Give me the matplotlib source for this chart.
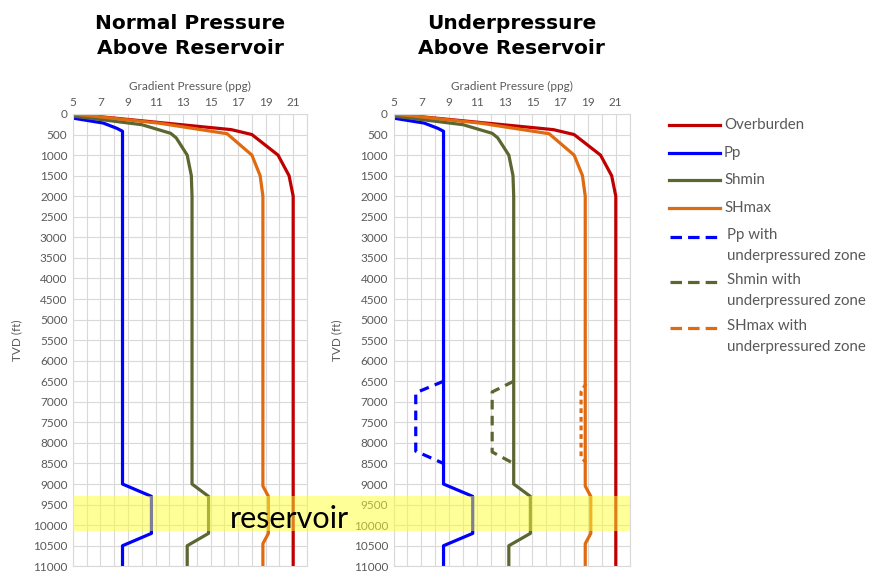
import matplotlib
matplotlib.use("Agg")
import matplotlib.pyplot as plt
import matplotlib.transforms as mtransforms
from matplotlib.patches import Rectangle
from matplotlib.lines import Line2D

# ---------------- data ----------------
ob_x = [5, 16.5, 18.0, 19.9, 20.7, 21.0, 21.0]
ob_y = [0, 380, 500, 1000, 1500, 2000, 11000]

pp_x = [5, 7.2, 8.2, 8.6, 8.6, 10.7, 10.7, 8.6, 8.6]
pp_y = [100, 220, 350, 420, 9000, 9300, 10200, 10500, 11000]

shmin_x = [5, 10.0, 12.1, 12.5, 13.3, 13.6, 13.65, 13.65, 14.85, 14.85, 13.3, 13.3]
shmin_y = [50, 260, 470, 580, 1000, 1500, 2000, 9000, 9300, 10200, 10500, 11000]

shmax_x = [5, 11.3, 16.2, 18.0, 18.6, 18.8, 18.8, 19.2, 19.2, 18.8, 18.8]
shmax_y = [0, 225, 480, 1000, 1500, 2000, 9050, 9300, 10200, 10450, 11000]

pp_u_x = [8.6, 6.6, 6.6, 8.6]
pp_u_y = [6500, 6780, 8200, 8500]
shmin_u_x = [13.65, 12.1, 12.1, 13.65]
shmin_u_y = [6500, 6760, 8220, 8500]
shmax_u_x = [18.85, 18.5, 18.5, 18.85]
shmax_u_y = [6560, 6760, 8340, 8480]

reservoir_top, reservoir_bottom = 9300, 10150

x_ticks = [5, 7, 9, 11, 13, 15, 17, 19, 21]
y_ticks = list(range(0, 11001, 500))

titles = ["Normal Pressure\nAbove Reservoir", "Underpressure\nAbove Reservoir"]

legend_labels = ["Overburden", "Pp", "Shmin", "SHmax",
                 "Pp with\nunderpressured zone",
                 "Shmin with\nunderpressured zone",
                 "SHmax with\nunderpressured zone"]

# ---------------- style ----------------
C_OB = "#C00000"
C_PP = "#0000FF"
C_SHMIN = "#5B6630"
C_SHMAX = "#E06A10"
GREY_TXT = "#595959"
LW = 2.3
TICKFONT = "Lato"
W, H = 878, 572

fig = plt.figure(figsize=(8.78, 5.72), dpi=100)
ax1 = fig.add_axes([0.0831, 0.010, 0.2665, 0.7907])
ax2 = fig.add_axes([0.4482, 0.010, 0.2690, 0.7907])


def style_axis(ax):
    ax.set_xlim(5, 22)
    ax.set_ylim(11000, 0)
    ax.set_xticks(x_ticks)
    ax.set_xticks(range(5, 23), minor=True)
    ax.set_yticks(y_ticks)
    ax.xaxis.tick_top()
    ax.xaxis.set_label_position("top")
    ax.grid(True, which="both", axis="x", color="#D9D9D9", lw=0.8)
    ax.grid(True, which="major", axis="y", color="#D9D9D9", lw=0.8)
    ax.tick_params(which="both", length=0, labelsize=8.5, labelcolor=GREY_TXT, pad=4)
    for lab in ax.get_xticklabels() + ax.get_yticklabels():
        lab.set_fontfamily(TICKFONT)
    for s in ax.spines.values():
        s.set_color("#D9D9D9")
        s.set_linewidth(0.8)
    ax.set_xlabel("Gradient Pressure (ppg)", fontsize=8.5, color=GREY_TXT,
                  family=TICKFONT, labelpad=5)
    ax.set_ylabel("TVD (ft)", fontsize=8.5, color=GREY_TXT, family=TICKFONT,
                  labelpad=8)
    ax.set_axisbelow(True)


for ax in (ax1, ax2):
    style_axis(ax)
    ax.plot(ob_x, ob_y, color=C_OB, lw=LW, solid_joinstyle="round")
    ax.plot(pp_x, pp_y, color=C_PP, lw=LW, solid_joinstyle="round")
    ax.plot(shmin_x, shmin_y, color=C_SHMIN, lw=LW, solid_joinstyle="round")
    ax.plot(shmax_x, shmax_y, color=C_SHMAX, lw=LW, solid_joinstyle="round")

ax2.patch.set_alpha(0)
dash = (0, (3, 2))
ax2.plot(pp_u_x, pp_u_y, color=C_PP, lw=LW, ls=dash)
ax2.plot(shmin_u_x, shmin_u_y, color=C_SHMIN, lw=LW, ls=dash)
ax2.plot(shmax_u_x, shmax_u_y, color=C_SHMAX, lw=LW, ls=(0, (1.5, 1.2)))

# titles
for ax, t in zip((ax1, ax2), titles):
    bb = ax.get_position()
    fig.text((bb.x0 + bb.x1) / 2, 0.937, t, ha="center", va="center",
             fontsize=14.5, fontweight="bold", family="DejaVu Sans",
             linespacing=1.45)

# reservoir band spanning both axes
b1 = ax1.get_position()
b2 = ax2.get_position()
trans = mtransforms.blended_transform_factory(fig.transFigure, ax1.transData)
band = Rectangle((b1.x0, reservoir_top), b2.x1 - b1.x0,
                 reservoir_bottom - reservoir_top, transform=trans,
                 facecolor="#FFFF33", alpha=0.5, edgecolor="none", zorder=5)
fig.add_artist(band)
txt_trans = mtransforms.offset_copy(trans, fig=fig, y=-5, units="dots")
fig.text(289 / W, (reservoir_top + reservoir_bottom) / 2, "reservoir",
         transform=txt_trans, ha="center", va="center", fontsize=22,
         family=TICKFONT, color="black", zorder=10)

# legend (drawn manually so the handle sits on the first text line)
leg_dash = (0, (3.6, 1.9))
handle_styles = [
    (C_OB, "-"), (C_PP, "-"), (C_SHMIN, "-"), (C_SHMAX, "-"),
    (C_PP, leg_dash), (C_SHMIN, leg_dash), (C_SHMAX, leg_dash),
]
row_px = [125, 153, 180, 208, 237, 282, 328]
for (col, ls), lab, ypx in zip(handle_styles, legend_labels, row_px):
    yf = 1 - ypx / H
    if ls == "-":
        fig.add_artist(Line2D([669 / W, 720 / W], [yf, yf], color=col, lw=LW,
                              transform=fig.transFigure))
        fig.text(724 / W, yf, lab, ha="left", va="center",
                 fontsize=10.8, family=TICKFONT, color=GREY_TXT)
    else:
        fig.add_artist(Line2D([670 / W, 717 / W], [yf, yf], color=col, lw=LW,
                              ls=ls, transform=fig.transFigure))
        fig.text(727 / W, 1 - (ypx - 9) / H, lab, ha="left", va="top",
                 fontsize=10.8, family=TICKFONT, color=GREY_TXT,
                 linespacing=1.6)

fig.savefig("out.png", dpi=100)
